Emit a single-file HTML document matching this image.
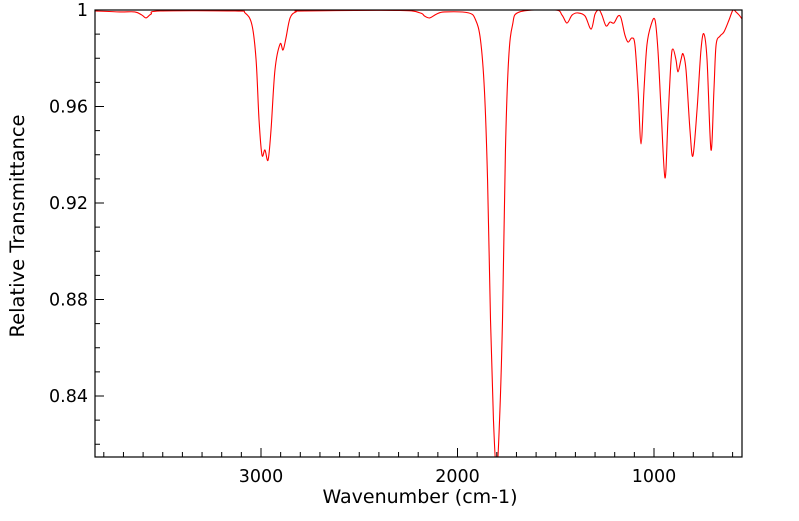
<!DOCTYPE html>
<html><head><meta charset="utf-8"><style>
body{margin:0;background:#fff;}
svg text{font-family:"DejaVu Sans","Liberation Sans",sans-serif;fill:#000;}
</style></head><body>
<svg id="chart" width="799" height="516" viewBox="0 0 799 516" xmlns="http://www.w3.org/2000/svg">
<defs><clipPath id="clip"><rect x="95" y="10" width="647" height="447"/></clipPath></defs>
<g id="ticks"></g>
<path id="spectrum" clip-path="url(#clip)" fill="none" stroke="#ff0000" stroke-width="1.1"/>
<rect x="95" y="10" width="647" height="447" fill="none" stroke="#000" stroke-width="1.2"/>
<text x="420" y="503" text-anchor="middle" font-size="19">Wavenumber (cm-1)</text>
<text transform="translate(24,226) rotate(-90)" text-anchor="middle" font-size="19.5">Relative Transmittance</text>
</svg>
<script>
const wavenumbers=[3845,3718,3642,3606,3585,3560,3514,3132,3081,3046,3025,3010,2995,2980,2964,2949,2929,2903,2888,2873,2852,2822,2776,2293,2191,2168,2142,2107,2066,1944,1908,1883,1863,1847,1832,1817,1801,1786,1771,1756,1740,1720,1684,1504,1468,1443,1417,1387,1351,1320,1300,1280,1265,1244,1224,1204,1183,1168,1148,1132,1112,1097,1081,1066,1051,1036,1015,995,980,964,944,929,913,903,888,878,863,852,837,817,802,781,761,746,730,710,695,684,664,644,618,598,583,567,552];
const transmittance=[0.9996,0.9992,0.9992,0.9979,0.9967,0.9983,0.9996,0.9996,0.9988,0.9938,0.9793,0.9544,0.9399,0.9420,0.9378,0.9503,0.9751,0.9859,0.9834,0.9884,0.9967,0.9992,0.9996,0.9998,0.9988,0.9975,0.9967,0.9983,0.9992,0.9988,0.9959,0.9876,0.9668,0.9295,0.8715,0.8300,0.8093,0.8300,0.8715,0.9420,0.9793,0.9938,0.9992,1.0000,0.9979,0.9946,0.9979,0.9988,0.9975,0.9921,0.9983,1.0000,0.9979,0.9934,0.9950,0.9946,0.9975,0.9967,0.9896,0.9867,0.9884,0.9855,0.9668,0.9445,0.9668,0.9855,0.9938,0.9959,0.9834,0.9586,0.9304,0.9544,0.9793,0.9838,0.9793,0.9743,0.9793,0.9818,0.9751,0.9503,0.9395,0.9586,0.9834,0.9901,0.9793,0.9420,0.9668,0.9855,0.9892,0.9909,0.9959,1.0000,0.9992,0.9979,0.9963];
const yTickLabels=["0.84","0.88","0.92","0.96","1"];
const xTickLabels=["3000","2000","1000"];

const X=w=>261+(3000-w)*0.1965;
const Y=t=>10+(1-t)*2412.5;
const NS="http://www.w3.org/2000/svg";
const g=document.getElementById('ticks');
function line(x1,y1,x2,y2,name){const l=document.createElementNS(NS,'line');l.setAttribute('x1',x1);l.setAttribute('y1',y1);l.setAttribute('x2',x2);l.setAttribute('y2',y2);l.setAttribute('stroke','#000');l.setAttribute('stroke-width','1');


g.appendChild(l);}
function text(x,y,s,anchor,name){const t=document.createElementNS(NS,'text');t.setAttribute('x',x);t.setAttribute('y',y);t.setAttribute('text-anchor',anchor);t.setAttribute('font-size','17.5');t.textContent=s;


g.appendChild(t);}
for(let v=82;v<=100;v++){const t=v/100;const y=Y(t);if(y>457)continue;const major=(v-84)%4===0;line(95,y,major?104:100,y,major?'y-major-tick':'y-minor-tick');}
yTickLabels.forEach(s=>text(88,Y(parseFloat(s))+6,s,'end','y-tick-label'));
for(let w=600;w<=3800;w+=100){const x=X(w);if(x<95||x>742)continue;const major=w%1000===0;line(x,457,x,major?448:452,major?'x-major-tick':'x-minor-tick');}
xTickLabels.forEach(s=>text(X(parseFloat(s)),482,s,'middle','x-tick-label'));
const pts=wavenumbers.map((w,i)=>[X(w),Y(transmittance[i])]);
let d='M'+pts[0][0].toFixed(2)+','+pts[0][1].toFixed(2);
for(let i=0;i<pts.length-1;i++){const p0=pts[Math.max(0,i-1)],p1=pts[i],p2=pts[i+1],p3=pts[Math.min(pts.length-1,i+2)];
const c1=[p1[0]+(p2[0]-p0[0])/6,p1[1]+(p2[1]-p0[1])/6],c2=[p2[0]-(p3[0]-p1[0])/6,p2[1]-(p3[1]-p1[1])/6];
d+=' C'+c1[0].toFixed(2)+','+c1[1].toFixed(2)+' '+c2[0].toFixed(2)+','+c2[1].toFixed(2)+' '+p2[0].toFixed(2)+','+p2[1].toFixed(2);}
document.getElementById('spectrum').setAttribute('d',d);
</script>
</body></html>
